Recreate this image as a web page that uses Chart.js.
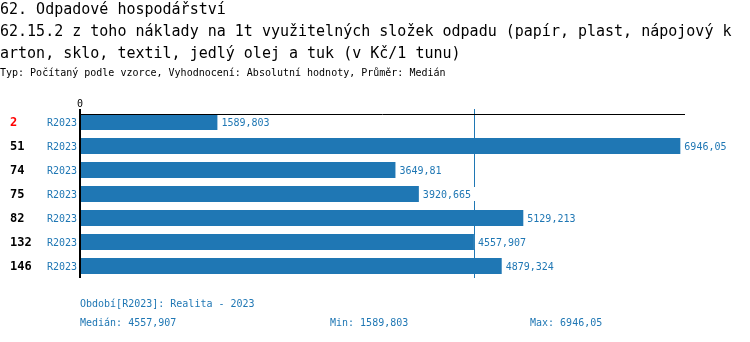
<!DOCTYPE html>
<html>
<head>
<meta charset="utf-8">
<script src="https://cdn.jsdelivr.net/npm/chart.js@4"></script>
<style>
body{margin:0;background:#fff}
#wrap{position:relative;width:750px;height:342px;overflow:hidden}
#c{position:absolute;left:0;top:0}
.t{position:absolute;left:0;white-space:pre;font-family:"DejaVu Sans Mono",monospace;color:#000}
.big{font-size:15px;line-height:15px}
.small{font-size:10px;line-height:10px}
.foot{color:#1f77b4}
</style>
</head>
<body>
<div id="wrap">
<canvas id="c" width="750" height="342"></canvas>
<div class="t big" style="top:2px">62. Odpadové hospodářství</div>
<div class="t big" style="top:24px">62.15.2 z toho náklady na 1t využitelných složek odpadu (papír, plast, nápojový k</div>
<div class="t big" style="top:46px">arton, sklo, textil, jedlý olej a tuk (v Kč/1 tunu)</div>
<div class="t small" style="top:68px">Typ: Počítaný podle vzorce, Vyhodnocení: Absolutní hodnoty, Průměr: Medián</div>
<div class="t small foot" style="top:299px;left:80px">Období[R2023]: Realita - 2023</div>
<div class="t small foot" id="fMed" style="top:318px;left:80px"></div>
<div class="t small foot" id="fMin" style="top:318px;left:330px"></div>
<div class="t small foot" id="fMax" style="top:318px;left:530px"></div>
</div>
<script>
/* data */
const ids = ["2","51","74","75","82","132","146"]
const periods = ["R2023","R2023","R2023","R2023","R2023","R2023","R2023"]
const values = [1589.803, 6946.05, 3649.81, 3920.665, 5129.213, 4557.907, 4879.324]
const highlight = "2"

const blue = "#1f77b4"
const mono = '"DejaVu Sans Mono", monospace'

function fmt(v){
return String(v).replace(".",",")
}

const sorted = values.slice().sort((a,b)=>a-b)
const median = sorted[Math.floor(sorted.length/2)]
const minV = sorted[0]
const maxV = sorted[sorted.length-1]

document.getElementById("fMed").textContent = "Medián: " + fmt(median)
document.getElementById("fMin").textContent = "Min: " + fmt(minV)
document.getElementById("fMax").textContent = "Max: " + fmt(maxV)

/* median line below bars */
const medianLine = {
id:"medianLine",
beforeDatasetsDraw(chart){
const ctx = chart.ctx
const x = chart.scales.x.getPixelForValue(median)
const a = chart.chartArea
ctx.save()
ctx.strokeStyle = blue
ctx.lineWidth = 1
ctx.beginPath()
ctx.moveTo(Math.round(x)+0.5, a.top-1)
ctx.lineTo(Math.round(x)+0.5, a.bottom)
ctx.stroke()
ctx.restore()
}
}

/* labels, axis lines */
const decorate = {
id:"decorate",
afterDatasetsDraw(chart){
const ctx = chart.ctx
const xs = chart.scales.x
const ys = chart.scales.y
const a = chart.chartArea
const bars = chart.getDatasetMeta(0).data
ctx.save()

/* value labels */
ctx.font = "10px " + mono
ctx.textBaseline = "middle"
bars.forEach((bar,i)=>{
const txt = fmt(values[i])
const w = ctx.measureText(txt).width
ctx.fillStyle = "#fff"
ctx.fillRect(bar.x+1, bar.y-7, w+7, 14)
ctx.fillStyle = blue
ctx.textAlign = "left"
ctx.fillText(txt, bar.x+4, bar.y+1)
})

/* period labels */
ctx.textAlign = "right"
ctx.fillStyle = blue
periods.forEach((p,i)=>{
ctx.fillText(p, a.left-3, ys.getPixelForValue(i)+1)
})

/* ids */
ctx.font = "bold 12px " + mono
ctx.textAlign = "left"
ids.forEach((id,i)=>{
ctx.fillStyle = id === highlight ? "#ff0000" : "#000"
ctx.fillText(id, 10, ys.getPixelForValue(i)+1)
})

/* axis lines */
const topY = bars[0].y - bars[0].height/2
ctx.strokeStyle = "#000"
ctx.lineWidth = 1
ctx.beginPath()
ctx.moveTo(a.left, Math.round(topY)+0.5)
ctx.lineTo(xs.right, Math.round(topY)+0.5)
ctx.stroke()
ctx.lineWidth = 2
ctx.beginPath()
ctx.moveTo(xs.getPixelForValue(0), a.top-1)
ctx.lineTo(xs.getPixelForValue(0), a.bottom)
ctx.stroke()

/* zero tick */
ctx.font = "10px " + mono
ctx.fillStyle = "#000"
ctx.textAlign = "center"
ctx.textBaseline = "alphabetic"
ctx.fillText("0", xs.getPixelForValue(0), a.top-3)

ctx.restore()
}
}

new Chart(document.getElementById("c"),{
type:"bar",
data:{
labels:ids,
datasets:[{
data:values,
backgroundColor:blue,
borderWidth:0,
barPercentage:0.667,
categoryPercentage:1
}]
},
options:{
indexAxis:"y",
responsive:false,
animation:false,
devicePixelRatio:1,
layout:{padding:{left:80,right:65,top:110,bottom:64}},
scales:{
x:{type:"linear",min:0,max:7000,display:false},
y:{type:"category",display:false}
},
plugins:{legend:{display:false},tooltip:{enabled:false}}
},
plugins:[medianLine,decorate]
})
</script>
</body>
</html>
